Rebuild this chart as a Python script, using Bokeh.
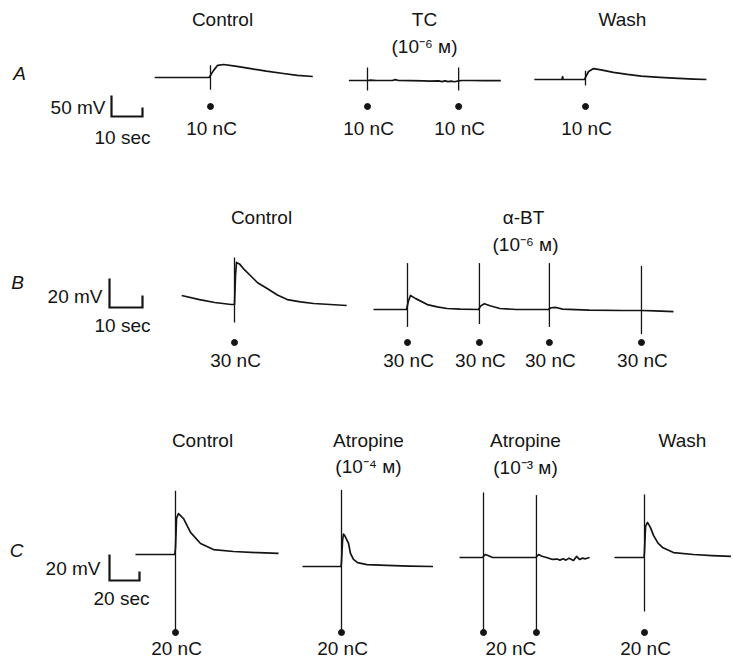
from bokeh.plotting import figure
from bokeh.models import Range1d
from bokeh.embed import file_html
from bokeh.resources import INLINE
from bokeh.core.properties import value

# ---------------- data ----------------
# times in s (relative to first stimulus of the record), potentials in mV (relative to baseline)
panel_letters = ["A", "B", "C"]
titles_A = ["Control", "TC", "Wash"]
titles_B = ["Control", "α-BT"]
titles_C = ["Control", "Atropine", "Atropine", "Wash"]
conc_A = ["(10⁻⁶ ᴍ)"]
conc_B = ["(10⁻⁶ ᴍ)"]
conc_C = ["(10⁻⁴ ᴍ)", "(10⁻³ ᴍ)"]
charge_labels = ["10 nC", "30 nC", "20 nC"]
scale_mv = [50, 20, 20]
scale_sec = [10, 10, 20]

# Panel A
a_ctrl_t = [-18, -10, -3, -0.5, 0, 1, 2.3, 4.2, 8, 13, 18, 23.5, 28, 33]
a_ctrl_v = [0, 0, 0, 0, 5, 17, 29, 31, 27, 21, 15, 9.5, 5, 2.4]
a_ctrl_stim = [0]
a_ctrl_up = [29]
a_ctrl_dn = [-29]

a_tc_t = [-6, -3, -0.5, 0, 1, 3, 8, 9, 10, 14, 18, 20, 23, 24, 25, 26, 27, 28, 29.4, 30.5, 33, 38, 43]
a_tc_v = [0, 0, 0, 0, 1, 0, 0, 2, 0, -0.5, -1, -1.5, -1, -2.5, -1, -2.5, -1.5, -3, -1, 0, 0, -0.5, -0.5]
a_tc_stim = [0, 29.4]
a_tc_up = [31, 31]
a_tc_dn = [-24, -24]

a_wash_t = [-16.5, -10, -7.6, -7.4, -7.2, -3, -0.3, 0, 1, 2.6, 5, 9, 13.5, 18, 24, 30, 35, 39]
a_wash_v = [0, 0, 0, 7, 0, 0, 0, 5, 19, 26, 23, 17, 12, 8, 5, 2.5, 1, 0]
a_wash_stim = [0]
a_wash_up = [21]
a_wash_dn = [-14]

# Panel B
b_ctrl_t = [-16, -10.6, -6, -1, 0, 0.3, 0.6, 1.5, 3, 4.8, 7, 9.9, 13, 16, 20, 24, 29, 34]
b_ctrl_v = [6.2, 3.4, 1.4, 0, 0, 20, 29, 28, 24, 20, 15, 11, 6.5, 3.4, 1.8, 0.7, 0, -0.7]
b_ctrl_stim = [0]
b_ctrl_up = [32.4]
b_ctrl_dn = [-12.4]

b_abt_t = [-10.3, -3, -0.3, 0.3, 0.9, 2.5, 6, 9, 12, 16, 21.5, 22.2, 23.3, 25, 28, 33,
           42.7, 43.5, 45, 47, 55, 65, 70.9, 75, 80.6]
b_abt_v = [0, 0, 0, 6, 9.7, 7.5, 3.4, 1.8, 0.7, 0.2, 0, 2.5, 4, 2.6, 0.7, 0,
           0, 1.2, 1.4, 0.3, -0.4, -0.7, -0.7, -1.0, -1.4]
b_abt_stim = [0, 21.8, 43, 70.9]
b_abt_up = [32, 32, 32, 30]
b_abt_dn = [-12, -10, -12, -17]

# Panel C
c_ctrl_t = [-26.7, -10, -0.5, 0, 0.7, 2, 5.3, 10, 16.7, 25.3, 38.7, 55, 68.7]
c_ctrl_v = [0, 0, 0, 5, 28, 31.5, 27.7, 17, 8.5, 3.8, 2.3, 1.4, 0.8]
c_ctrl_stim = [0]
c_ctrl_up = [49]
c_ctrl_dn = [-58]

c_atr4_t = [-26, -10, -0.3, 0, 0.7, 1.3, 2.5, 4.7, 6, 8, 10.7, 17, 30, 45, 61]
c_atr4_v = [0, 0, 0, 4, 20, 25, 23, 17.7, 10, 5.5, 3, 1.5, 0.8, 0.3, 0]
c_atr4_stim = [0]
c_atr4_up = [59]
c_atr4_dn = [-49]

c_atr3_t = [-16, -5, -0.3, 0, 1.3, 3, 6, 15, 25, 35, 35.3, 36.7, 39, 42, 46, 49, 51, 53,
            55, 57, 60, 62, 64, 66, 68, 70.7]
c_atr3_v = [0, 0, 0, 1, 2.3, 1.5, 0, 0, 0, 0, 0.5, 2.3, 1, 0, -1.5, -1.2, -2, -1,
            -2, -0.5, -2.3, 0.8, -1.5, -0.5, -1, 0]
c_atr3_stim = [0, 35.3]
c_atr3_up = [50, 48]
c_atr3_dn = [-56, -56]

c_wash_t = [-20, -10, -0.3, 0, 0.7, 2, 4, 6, 9, 12, 19.3, 32.7, 45, 59.3]
c_wash_v = [0, 0, 0, 5, 24, 27, 23, 17, 11, 7.7, 3.8, 2.3, 1.5, 0.8]
c_wash_stim = [0]
c_wash_up = [48.5]
c_wash_dn = [-41.5]

# ---------------- layout (page coordinates) ----------------
FONT = value("Liberation Sans")
FS = "19px"
INK = "#141414"

W, H = 731, 660
p = figure(width=W, height=H, x_range=Range1d(0, W), y_range=Range1d(H, 0),
           output_backend="svg", toolbar_location=None, min_border=0,
           background_fill_color="white", border_fill_color="white")
p.axis.visible = False
p.grid.visible = False
p.outline_line_color = None

# panel scales: px per second, px per mV
SX = [3.1, 3.3, 1.5]
SY = [0.42, 1.45, 1.3]

traces = [
    # (panel, t, v, stim, up, dn, x0, y0)
    (0, a_ctrl_t, a_ctrl_v, a_ctrl_stim, a_ctrl_up, a_ctrl_dn, 210, 77),
    (0, a_tc_t, a_tc_v, a_tc_stim, a_tc_up, a_tc_dn, 367, 80),
    (0, a_wash_t, a_wash_v, a_wash_stim, a_wash_up, a_wash_dn, 585, 79),
    (1, b_ctrl_t, b_ctrl_v, b_ctrl_stim, b_ctrl_up, b_ctrl_dn, 234, 304),
    (1, b_abt_t, b_abt_v, b_abt_stim, b_abt_up, b_abt_dn, 407, 309),
    (2, c_ctrl_t, c_ctrl_v, c_ctrl_stim, c_ctrl_up, c_ctrl_dn, 175, 554),
    (2, c_atr4_t, c_atr4_v, c_atr4_stim, c_atr4_up, c_atr4_dn, 341, 566),
    (2, c_atr3_t, c_atr3_v, c_atr3_stim, c_atr3_up, c_atr3_dn, 483, 557),
    (2, c_wash_t, c_wash_v, c_wash_stim, c_wash_up, c_wash_dn, 644, 557),
]
DOT_Y = [106, 342, 632]
LAB_Y = [128, 360, 648]

xs, ys = [], []
sx0, sy0, sx1, sy1 = [], [], [], []
dx, dy = [], []
lx, ly, lt = [], [], []
for k, (pan, t, v, st, up, dn, x0, y0) in enumerate(traces):
    xs.append([x0 + ti * SX[pan] for ti in t])
    ys.append([y0 - vi * SY[pan] for vi in v])
    for s, u, d in zip(st, up, dn):
        xx = x0 + s * SX[pan]
        sx0.append(xx); sx1.append(xx)
        sy0.append(y0 - u * SY[pan]); sy1.append(y0 - d * SY[pan])
        dx.append(xx); dy.append(DOT_Y[pan])
    stim_x = [x0 + s * SX[pan] for s in st]
    if k == 7:  # one label for the pair of stimuli
        stim_x = [sum(stim_x) / len(stim_x)]
    for xx in stim_x:
        lx.append(xx + 1); ly.append(LAB_Y[pan]); lt.append(charge_labels[pan])

p.multi_line(xs, ys, line_color=INK, line_width=1.7, line_join="round")
p.segment(sx0, sy0, sx1, sy1, line_color=INK, line_width=1.3)
p.scatter(dx, dy, size=6, color=INK)
p.text(lx, ly, text=lt, text_font=FONT, text_font_size=FS, text_color=INK,
       text_align="center", text_baseline="middle")

# scale bars
bar_left = [111, 109, 109]
bar_bottom = [116, 307, 580]
tick = [9, 12, 9]
for i in range(3):
    x0, yb = bar_left[i], bar_bottom[i]
    w = scale_sec[i] * SX[i]
    h = scale_mv[i] * SY[i]
    p.line([x0, x0, x0 + w, x0 + w], [yb - h, yb, yb, yb - tick[i]],
           line_color=INK, line_width=2.2, line_join="miter")
mv_x = [105, 102, 100]
mv_y = [107, 296, 568]
sec_x = [122, 122, 121]
sec_y = [137, 325, 598]
p.text(mv_x, mv_y, text=[f"{m} mV" for m in scale_mv], text_font=FONT, text_font_size=FS,
       text_color=INK, text_align="right", text_baseline="middle")
p.text(sec_x, sec_y, text=[f"{s} sec" for s in scale_sec], text_font=FONT, text_font_size=FS,
       text_color=INK, text_align="center", text_baseline="middle")

# panel letters
p.text([19, 17, 16], [73, 282, 550], text=panel_letters, text_font=FONT, text_font_size=FS,
       text_font_style="italic", text_color=INK, text_align="center", text_baseline="middle")

# titles
tx = [222, 424, 622, 261, 523, 202, 368, 525, 682]
ty = [19, 19, 19, 217, 217, 440, 440, 440, 440]
p.text(tx, ty, text=titles_A + titles_B + titles_C, text_font=FONT, text_font_size=FS,
       text_color=INK, text_align="center", text_baseline="middle")
cx = [424, 525, 368, 525]
cy = [46, 244, 466, 467]
p.text(cx, cy, text=conc_A + conc_B + conc_C, text_font=FONT, text_font_size=FS,
       text_color=INK, text_align="center", text_baseline="middle")

open("out.html", "w").write(file_html(p, INLINE))
